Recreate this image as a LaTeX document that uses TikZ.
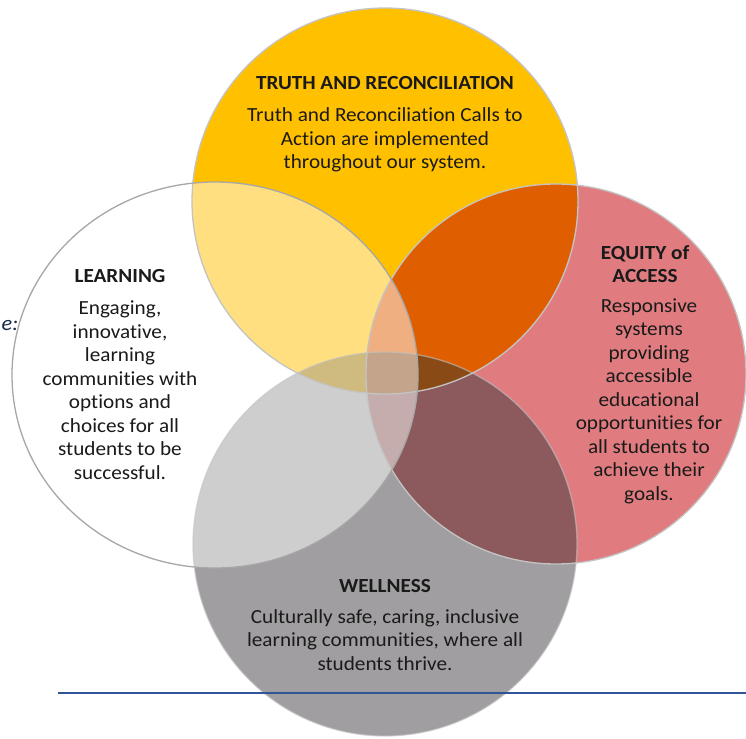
\documentclass[tikz,border=0pt]{standalone}
\usepackage{fontspec}
\setmainfont{Carlito}[FakeStretch=1.06, Ligatures=NoCommon]
\definecolor{cT}{HTML}{FFC000}
\definecolor{cR}{HTML}{E07C7F}
\definecolor{cB}{HTML}{A09EA0}
\definecolor{cTR}{HTML}{DF5F00}
\definecolor{cRB}{HTML}{8C5A5C}
\definecolor{cTB}{HTML}{A07700}
\definecolor{cTRB}{HTML}{8A4A16}
\definecolor{cEdge}{HTML}{C4C4C4}
\definecolor{cLine}{HTML}{2F5597}
\definecolor{cTxt}{HTML}{1A1A1A}
\begin{document}
\begin{tikzpicture}[x=1bp,y=-1bp,
  ttl/.style={font=\fontsize{20bp}{23.5bp}\selectfont\bfseries, text=cTxt, align=center, inner sep=0pt},
  body/.style={font=\fontsize{20bp}{23.5bp}\selectfont, text=cTxt, align=center, inner sep=0pt},
  edge/.style={draw=cEdge, line width=1.3bp}]
\useasboundingbox (0,0) rectangle (746,739);
\fill[white] (0,0) rectangle (746,739);
% base fills
\fill[cT] (385,201) circle[radius=193bp];
\fill[cR] (556,374) circle[radius=190bp];
\fill[cB] (385,544) circle[radius=192bp];
% overlaps
\begin{scope}
  \clip (385,201) circle[radius=193bp];
  \fill[cTR] (556,374) circle[radius=190bp];
\end{scope}
\begin{scope}
  \clip (556,374) circle[radius=190bp];
  \fill[cRB] (385,544) circle[radius=192bp];
\end{scope}
\begin{scope}
  \clip (385,201) circle[radius=193bp];
  \fill[cTB] (385,544) circle[radius=192bp];
\end{scope}
\begin{scope}
  \clip (385,201) circle[radius=193bp];
  \clip (556,374) circle[radius=190bp];
  \fill[cTRB] (385,544) circle[radius=192bp];
\end{scope}
% left translucent white
\fill[white, fill opacity=0.5] (215,375) ellipse[x radius=203bp, y radius=193bp];
% outlines
\draw[edge] (385,201) circle[radius=193bp];
\draw[edge] (556,374) circle[radius=190bp];
\draw[edge, draw opacity=0.6] (385,544) circle[radius=192bp];
\draw[edge, draw=cEdge!85!black] (215,375) ellipse[x radius=203bp, y radius=193bp];
% blue rule
\coordinate (ruleL) at (58,693);
\coordinate (ruleR) at (746,693);
\draw[cLine, line width=2.4bp] (ruleL) -- (ruleR);
% texts
\node[ttl] (truthT) at (385,83) {TRUTH AND RECONCILIATION};
\node[body] (truthB) at (385,140) {Truth and Reconciliation Calls to\\Action are implemented\\throughout our system.};
\node[ttl] (learnT) at (120,276) {LEARNING};
\node[body] (learnB) at (120,390) {Engaging,\\innovative,\\learning\\communities with\\options and\\choices for all\\students to be\\successful.};
\node[ttl] (equityT) at (645,264) {EQUITY of\\ACCESS};
\node[body] (equityB) at (649,401) {Responsive\\systems\\providing\\accessible\\educational\\opportunities for\\all students to\\achieve their\\goals.};
\node[ttl] (wellT) at (385,586) {WELLNESS};
\node[body] (wellB) at (385,640) {Culturally safe, caring, inclusive\\learning communities, where all\\students thrive.};
\node[font=\fontsize{21bp}{23bp}\selectfont\itshape, text=cLine!50!black, anchor=west, inner sep=0pt] (cut) at (1.5,325) {e:};
\end{tikzpicture}
\end{document}
